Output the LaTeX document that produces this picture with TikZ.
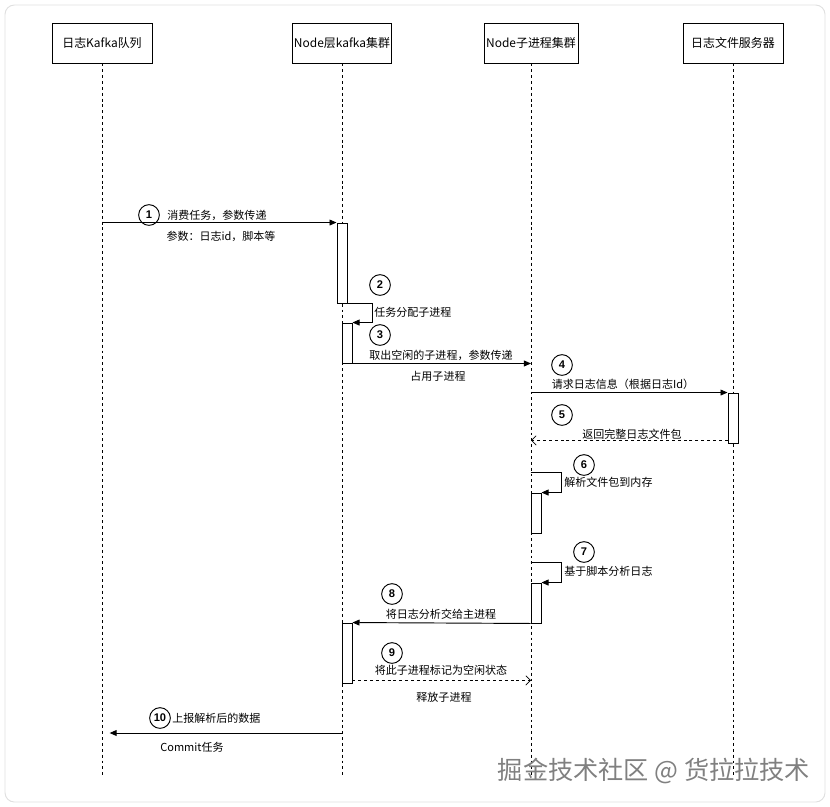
\documentclass[tikz,border=0pt]{standalone}
\usepackage{fontspec}
\setmainfont{Noto Sans CJK SC}
\newfontfamily\numfont{Liberation Sans}
\usetikzlibrary{arrows.meta,fit}

\begin{document}
\begin{tikzpicture}[x=0.03cm,y=-0.03cm,line join=miter,
  every node/.style={inner sep=1pt,font=\fontsize{9.4}{11}\selectfont},
  hdr/.style={draw,line width=0.8pt,minimum width=3cm,minimum height=1.2cm,font=\fontsize{10.2}{12}\selectfont},
  life/.style={line width=0.5pt,dash pattern=on 2.5pt off 2.5pt},
  act/.style={draw,fill=white,line width=0.8pt,inner sep=0pt},
  msg/.style={line width=0.8pt,-{Triangle[length=6pt,width=5pt]}},
  ret/.style={line width=0.6pt,dash pattern=on 2.5pt off 2.5pt,-{Straight Barb[length=4pt,width=8pt]}},
  num/.style={circle,draw,line width=0.8pt,minimum size=0.62cm,inner sep=0pt,font=\numfont\bfseries\fontsize{9.5}{10}\selectfont}]
  \useasboundingbox (0,0) rectangle (830,807);
  \draw[rounded corners=8pt,draw=black!12,line width=0.8pt] (5,5) rectangle (825,802);

  % 参与者
  \node[hdr] (kafka) at (102,43) {日志Kafka队列};
  \node[hdr,minimum width=2.97cm] (nodek) at (342,43) {Node层kafka集群};
  \node[hdr,minimum width=2.82cm] (child) at (531,43) {Node子进程集群};
  \node[hdr] (logsrv) at (733,43) {日志文件服务器};
  \foreach \n in {kafka,nodek,child,logsrv} {
    \coordinate (\n-e) at (\n.south |- 0,778);
    \draw[life] (\n.south) -- (\n-e);
  }

  % 激活条
  \node[act,fit={(337,223) (347,303)}] (a1) {};
  \node[act,fit={(342,323) (352,363)}] (a2) {};
  \node[act,fit={(728,393) (738,443)}] (a4) {};
  \node[act,fit={(531,493) (541,533)}] (a6) {};
  \node[act,fit={(531,583) (541,623)}] (a7) {};
  \node[act,fit={(342,623) (352,683)}] (a8) {};

  % 1
  \draw[msg] (a1.north west -| kafka) -- (a1.north west);
  \node[num] (n1) at (149,215) {1};
  \node[anchor=west] (l1) at (166,215) {消费任务，参数传递};
  \node (l1b) at (221,236) {参数：日志id，脚本等};
  % 2
  \draw[msg] (a1.south east) -- ++(25,0) |- (a2.north east);
  \node[num] (n2) at (380,285) {2};
  \node[anchor=west] (l2) at (373,312) {任务分配子进程};
  % 3
  \draw[msg] (a2.south east) -- (a2.south east -| child);
  \node[num] (n3) at (380,335) {3};
  \node (l3) at (441,355) {取出空闲的子进程，参数传递};
  \node (l3b) at (438,376) {占用子进程};
  % 4
  \draw[msg] (a4.north west -| child) -- (a4.north west);
  \node[num] (n4) at (562,365) {4};
  \node (l4) at (623,384) {请求日志信息（根据日志Id）};
  % 5
  \draw[ret] ([yshift=0.09cm]a4.south west) -- ([yshift=0.09cm]a4.south west -| child);
  \node[num] (n5) at (562,415) {5};
  \node (l5) at (632,434) {返回完整日志文件包};
  % 6
  \draw[msg] (a6.north west) ++(0,-20) -- ++(31,0) |- (a6.north east);
  \node[num] (n6) at (584,465) {6};
  \node[anchor=west] (l6) at (563,482) {解析文件包到内存};
  % 7
  \draw[msg] (a7.north west) ++(0,-20) -- ++(31,0) |- (a7.north east);
  \node[num] (n7) at (584,552) {7};
  \node[anchor=west] (l7) at (563,571) {基于脚本分析日志};
  % 8
  \draw[msg] (a7.south west) -- (a8.north east);
  \node[num] (n8) at (392,594) {8};
  \node (l8) at (441,614) {将日志分析交给主进程};
  % 9
  \draw[ret] ([yshift=0.09cm]a8.south east) -- ([yshift=0.09cm]a8.south east -| child);
  \node[num] (n9) at (392,653) {9};
  \node (l9) at (441,670) {将此子进程标记为空闲状态};
  \node (l9b) at (444,697) {释放子进程};
  % 10
  \coordinate (r10) at (nodek.south |- 0,733);
  \draw[msg,shorten >=6.5pt] (r10) -- (r10 -| kafka);
  \node[num] (n10) at (160,718) {10};
  \node[anchor=west] (l10) at (171,718) {上报解析后的数据};
  \node (l10b) at (192,747) {Commit任务};

  \node[text=black!50,font=\fontsize{21.5}{25}\selectfont] (wm) at (654,771) {掘金技术社区 @ 货拉拉技术};
\end{tikzpicture}
\end{document}
